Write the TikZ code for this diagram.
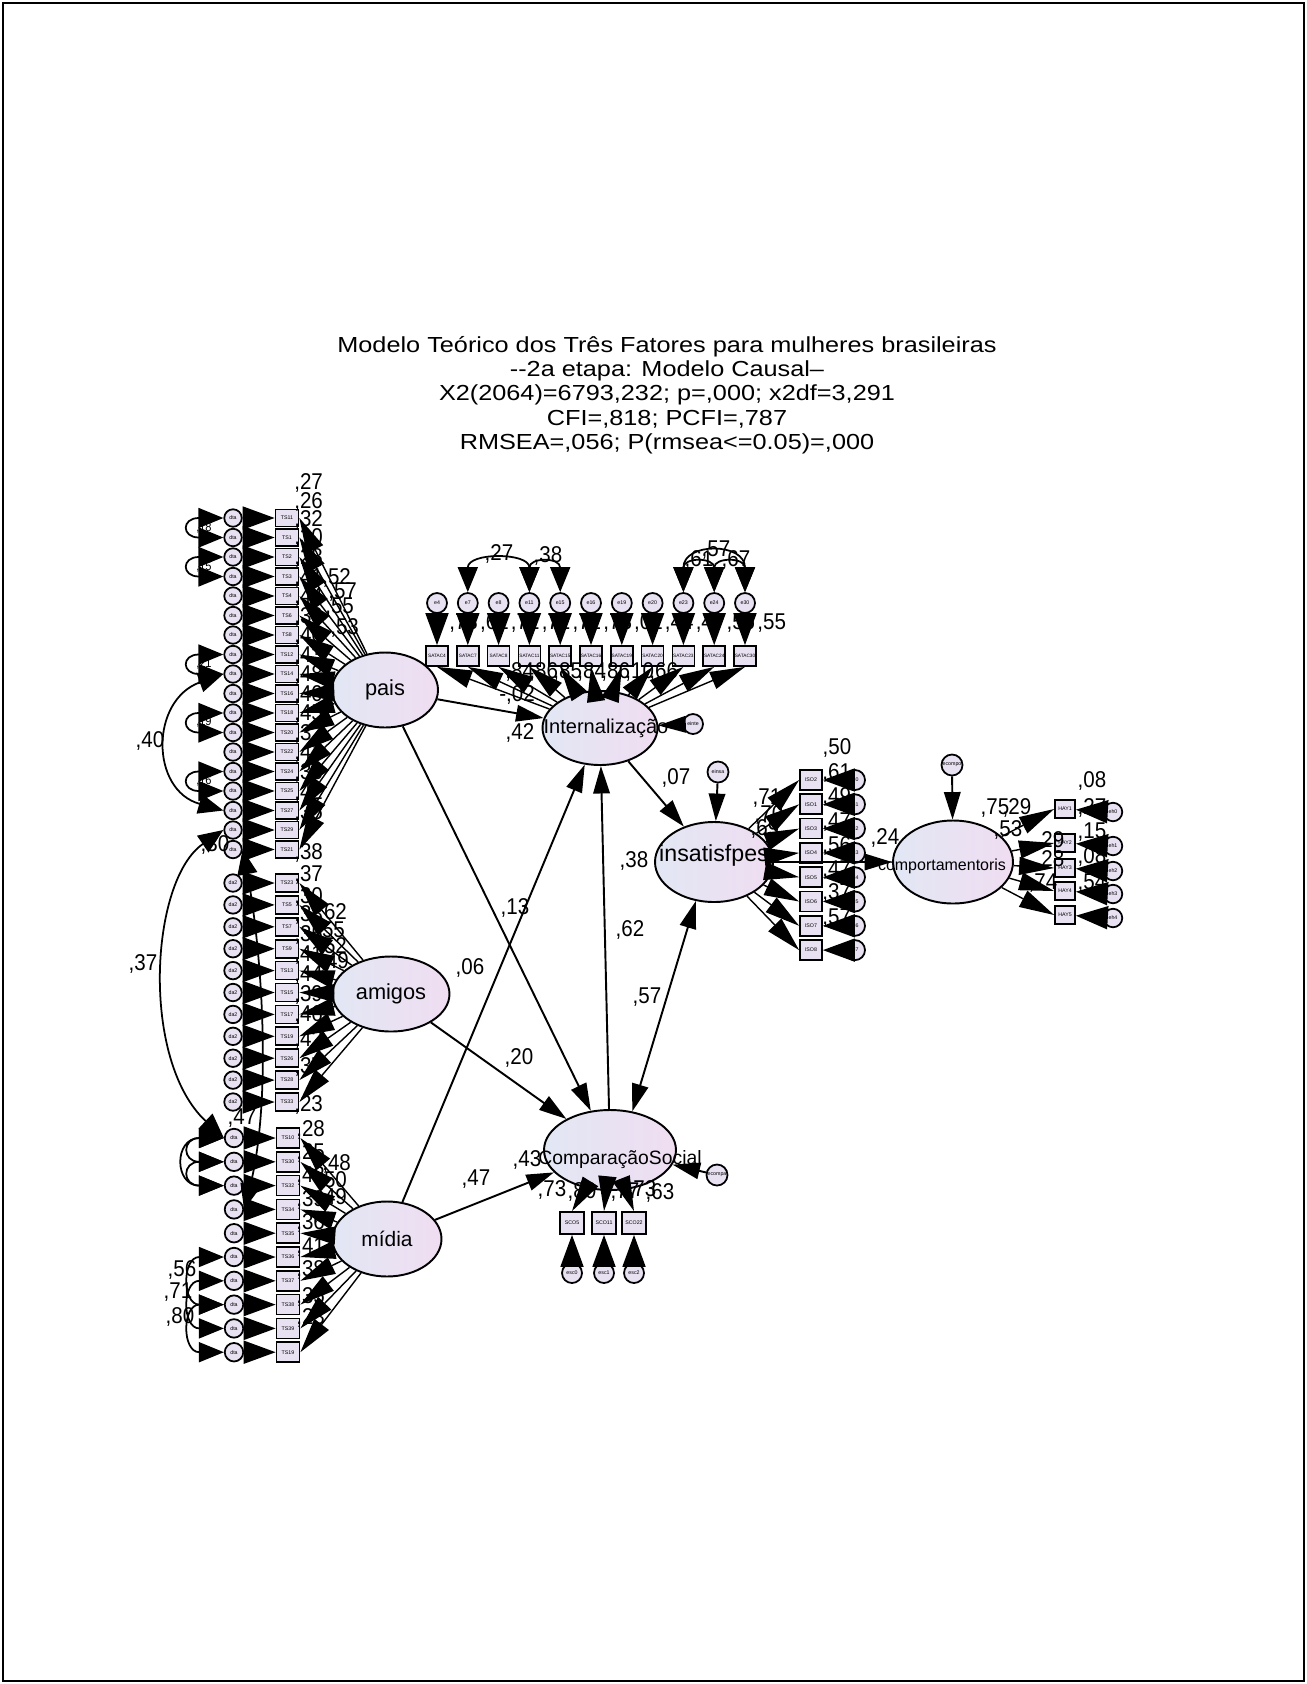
\documentclass[tikz,border=0pt]{standalone}
\usepackage{fontspec}
\setmainfont{Liberation Sans}
\newfontfamily\titlefont{Liberation Sans}[FakeStretch=1.16]
\newfontfamily\labfont{Liberation Sans}[FakeStretch=0.9]
\usetikzlibrary{arrows.meta, shapes.geometric}
\definecolor{amosfill}{RGB}{232,225,242}
\definecolor{amosleft}{RGB}{226,231,244}
\definecolor{amosright}{RGB}{240,221,242}
\tikzset{
  latent/.style={ellipse, draw, line width=1.1pt, left color=amosleft, right color=amosright, inner sep=0pt},
  latlab/.style={inner sep=0pt},
  obsbox/.style={rectangle, draw, line width=1pt, fill=amosfill, inner sep=0pt, minimum width=0.46cm, minimum height=0.34cm, font=\fontsize{3}{3}\selectfont},
  errcirc/.style={circle, draw, line width=1pt, fill=amosfill, inner sep=0pt, minimum size=0.35cm, font=\fontsize{3}{3}\selectfont},
  tinylab/.style={inner sep=0pt, font=\fontsize{3}{3}\selectfont},
  coef/.style={inner sep=0pt, font=\labfont\fontsize{13}{14}\selectfont},
  smallcoef/.style={inner sep=0pt, font=\labfont\fontsize{7}{8}\selectfont},
  titletext/.style={align=center, inner sep=0pt, font=\titlefont\fontsize{12.4}{13.8}\selectfont},
  errarrow/.style={line width=1pt, -{Triangle[length=0.64cm,width=0.46cm]}},
  loadarrow/.style={line width=0.8pt, -{Triangle[length=0.7cm,width=0.36cm]}},
  patharrow/.style={line width=1.1pt, -{Triangle[length=0.55cm,width=0.33cm]}},
  twoway/.style={line width=1.1pt, {Triangle[length=0.55cm,width=0.33cm]}-{Triangle[length=0.55cm,width=0.33cm]}},
  covarrow/.style={line width=1pt, {Triangle[length=0.5cm,width=0.4cm]}-{Triangle[length=0.5cm,width=0.4cm]}},
}
\begin{document}
\begin{tikzpicture}[x=0.02cm, y=-0.02cm]
\useasboundingbox (0,0) rectangle (1307,1684);
\draw[line width=1.1pt] (3,3) rectangle (1304,1681);

% title
\node[titletext] (title) at (667,395) {Modelo Teórico dos Três Fatores para mulheres brasileiras\\-{}-2a etapa: Modelo Causal–\\X2(2064)=6793,232; p=,000; x2df=3,291\\CFI=,818; PCFI=,787\\RMSEA=,056; P(rmsea<=0.05)=,000};

% latent variables
\node[latent, minimum width=2.12cm, minimum height=1.5cm, label={[latlab, font=\fontsize{12.4}{14}\selectfont]center:pais}] (pais) at (385,690) {};
\node[latent, minimum width=2.34cm, minimum height=1.5cm, label={[latlab, font=\fontsize{12.4}{14}\selectfont]center:amigos}] (amigos) at (391,994) {};
\node[latent, minimum width=2.18cm, minimum height=1.5cm, label={[latlab, font=\fontsize{11.9}{14}\selectfont]center:mídia}] (midia) at (387,1239) {};
\node[latent, minimum width=2.3cm, minimum height=1.48cm, label={[latlab, xshift=0.12cm, font=\fontsize{11.4}{14}\selectfont]center:Internalização}] (intern) at (600,728) {};
\node[latent, minimum width=2.36cm, minimum height=1.6cm, label={[latlab, yshift=0.14cm, font=\fontsize{13.2}{15}\selectfont]center:insatisfpes}] (insat) at (714,862) {};
\node[latent, minimum width=2.4cm, minimum height=1.66cm, label={[latlab, xshift=-0.22cm, yshift=-0.08cm, font=\fontsize{9.1}{11}\selectfont]center:comportamentoris}] (comp) at (953,862) {};
\node[latent, minimum width=2.64cm, minimum height=1.6cm, label={[latlab, xshift=0.2cm, yshift=-0.2cm, font=\fontsize{11}{13}\selectfont]center:ComparaçãoSocial}] (soc) at (610,1150) {};

% residuals of the latent variables
\node[errcirc, minimum size=0.4cm, label={[tinylab]center:einte}] (eint) at (693,724) {};
\node[errcirc, minimum size=0.42cm, label={[tinylab]center:einsa}] (einsat) at (718,772) {};
\node[errcirc, minimum size=0.42cm, label={[tinylab]center:ecompo}] (ecomp) at (952,765) {};
\node[errcirc, minimum size=0.42cm, label={[tinylab]center:ecompa}] (esoc) at (717,1175) {};

% left indicators
\foreach \nm [count=\i from 0] in {TS11,TS1,TS2,TS3,TS4,TS6,TS8,TS12,TS14,TS16,TS18,TS20,TS22,TS24,TS25,TS27,TS29,TS21} {
  \node[obsbox] (p\i) at (287,518+19.5*\i) {\nm};
  \node[errcirc] (dp\i) at (233,518+19.5*\i) {dta};
}
\foreach \nm [count=\i from 0] in {TS23,TS5,TS7,TS9,TS13,TS15,TS17,TS19,TS26,TS28,TS33} {
  \node[obsbox, minimum height=0.36cm] (a\i) at (287,883+21.9*\i) {\nm};
  \node[errcirc] (da\i) at (233,883+21.9*\i) {da2};
}
\foreach \nm [count=\i from 0] in {TS10,TS30,TS32,TS34,TS35,TS36,TS37,TS38,TS39,TS19} {
  \node[obsbox, minimum height=0.4cm] (m\i) at (288,1138+23.8*\i) {\nm};
  \node[errcirc, minimum size=0.37cm] (dm\i) at (234,1138+23.8*\i) {dta};
}

% internalizacao indicators
\foreach \e [count=\i from 0] in {4,7,8,11,15,16,19,20,23,24,30} {
  \node[obsbox, minimum width=0.44cm, minimum height=0.4cm, font=\fontsize{2.7}{3}\selectfont] (s\i) at (437+30.8*\i,656) {SATAC\e};
  \node[errcirc, minimum size=0.4cm] (es\i) at (437+30.8*\i,603) {e\e};
}
% insatisfpes indicators
\foreach \nm [count=\i from 0] in {ISO2,ISO1,ISO3,ISO4,ISO5,ISO6,ISO7,ISO8} {
  \node[obsbox, minimum width=0.44cm, minimum height=0.4cm] (q\i) at (811,780+24.3*\i) {\nm};
  \node[errcirc, minimum size=0.4cm] (eq\i) at (855,780+24.3*\i) {ei\i};
}
% comportamentoris indicators
\foreach \yy/\nm [count=\i from 0] in {809/HAY1,843/HAY2,868/HAY3,891/HAY4,915/HAY5} {
  \node[obsbox, minimum width=0.4cm, minimum height=0.36cm] (c\i) at (1065,\yy) {\nm};
  \node[errcirc, minimum size=0.37cm] (ec\i) at (1113,\yy+3) {eh\i};
}
% comparacao social indicators
\foreach \xx/\nm [count=\i from 0] in {572/SCO5,604/SCO11,634/SCO22} {
  \node[obsbox, minimum width=0.48cm, minimum height=0.44cm] (k\i) at (\xx,1223) {\nm};
  \node[errcirc, minimum size=0.4cm] (ek\i) at (\xx,1273) {esc\i};
}

% squared multiple correlations and weights
\foreach \yy/\txt [count=\k] in {483/{,27},502/{,26},520/{,32},538/{,30},558/{,28},578/{,41},597/{,44},617/{,39},636/{,46},656/{,43},675/{,48},695/{,40},714/{,45},734/{,37},753/{,41},773/{,36},793/{,42},813/{,35},853/{,38}}
  \node[coef, anchor=west] (rp\k) at (294,\yy) {\txt};
\foreach \xx/\yy/\txt [count=\k] in {322/578/{,52},328/592/{,57},325/607/{,55},330/628/{,53}}
  \node[coef, anchor=west] (xp\k) at (\xx,\yy) {\txt};
\foreach \yy/\txt [count=\k] in {875/{,37},897/{,30},915/{,38},935/{,35},955/{,41},975/{,44},995/{,39},1015/{,46},1040/{,42},1067/{,37},1105/{,23}}
  \node[coef, anchor=west] (ra\k) at (294,\yy) {\txt};
\foreach \xx/\yy/\txt [count=\k] in {318/913/{,62},316/931/{,55},318/947/{,52},320/962/{,49}}
  \node[coef, anchor=west] (xa\k) at (\xx,\yy) {\txt};
\foreach \yy/\txt [count=\k] in {1130/{,28},1153/{,25},1176/{,42},1200/{,39},1223/{,36},1247/{,41},1270/{,38},1297/{,35},1318/{,23}}
  \node[coef, anchor=west] (rm\k) at (296,\yy) {\txt};
\foreach \xx/\yy/\txt [count=\k] in {322/1164/{,48},318/1181/{,50},318/1198/{,49}}
  \node[coef, anchor=west] (xm\k) at (\xx,\yy) {\txt};
\foreach \txt [count=\k from 0] in {{,73},{,62},{,71},{,72},{,71},{,73},{,01},{,44},{,47},{,56},{,55}}
  \node[coef, anchor=west] (rs\k) at (449+30.8*\k,623) {\txt};
\foreach \txt [count=\k from 0] in {{,84},{,86},{,85},{,84},{,86},{,10},{,66}}
  \node[coef, anchor=west] (ws\k) at (505+24*\k,672) {\txt};
\foreach \yy/\txt [count=\k] in {773/{,61},797/{,49},822/{,47},846/{,56},870/{,47},893/{,37},918/{,57}}
  \node[coef, anchor=west] (rq\k) at (822,\yy) {\txt};
\node[coef] (rq0) at (837,748) {,50};
\node[coef] (wq1) at (767,798) {,71};
\node[coef] (wq2) at (769,815) {,70};
\node[coef] (wq3) at (765,829) {,69};
\foreach \yy/\txt [count=\k] in {781/{,08},808/{,27},832/{,15},857/{,08},883/{,54}}
  \node[coef] (rc\k) at (1092,\yy) {\txt};
\node[coef] (rc0) at (995,808) {,75};
\node[coef] (wc1) at (1017,808) {,29};
\node[coef] (wc2) at (1008,830) {,53};
\node[coef] (wc3) at (1050,841) {,29};
\node[coef] (wc4) at (1050,860) {,28};
\node[coef] (wc5) at (1043,883) {,74};
\foreach \xx/\yy/\txt [count=\k] in {552/1190/{,73},582/1192/{,80},625/1192/{,77},642/1190/{,73},660/1193/{,63}}
  \node[coef] (rk\k) at (\xx,\yy) {\txt};

% structural weights and covariances
\node[coef] (w1) at (517,695) {-,02};
\node[coef] (w2) at (520,733) {,42};
\node[coef] (w3) at (470,968) {,06};
\node[coef] (w4) at (515,908) {,13};
\node[coef] (w5) at (519,1058) {,20};
\node[coef] (w6) at (476,1179) {,47};
\node[coef] (w7) at (527,1160) {,43};
\node[coef] (w8) at (630,930) {,62};
\node[coef] (w9) at (647,997) {,57};
\node[coef] (w10) at (676,778) {,07};
\node[coef] (w11) at (634,861) {,38};
\node[coef] (w12) at (885,838) {,24};
\node[coef] (v1) at (150,741) {,40};
\node[coef] (v2) at (143,964) {,37};
\node[coef] (v3) at (215,845) {,30};
\node[coef] (v4) at (242,1118) {,47};
\node[coef] (v5) at (182,1270) {,56};
\node[coef] (v6) at (178,1292) {,71};
\node[coef] (v7) at (180,1317) {,80};
\node[coef] (v8) at (499,554) {,27};
\node[coef] (v9) at (548,556) {,38};
\node[coef] (v10) at (716,550) {,57};
\node[coef] (v11) at (699,560) {,61};
\node[coef] (v12) at (736,560) {,67};
\foreach \yy/\txt [count=\k] in {528/{,18},567/{,15},664/{,21},722/{,19},781/{,16}}
  \node[smallcoef, anchor=east] (vs\k) at (212,\yy) {\txt};

% measurement arrows
\foreach \i in {0,...,17} {\draw[errarrow] (dp\i) -- (p\i); \draw[loadarrow] (pais) -- (p\i.east);}
\foreach \i in {0,...,10} {\draw[errarrow] (da\i) -- (a\i); \draw[loadarrow] (amigos) -- (a\i.east);}
\foreach \i in {0,...,9} {\draw[errarrow] (dm\i) -- (m\i); \draw[loadarrow] (midia) -- (m\i.east);}
\foreach \i in {0,...,10} {\draw[errarrow] (es\i) -- (s\i); \draw[loadarrow] (intern) -- (s\i.south);}
\foreach \i in {0,...,7} {\draw[errarrow] (eq\i) -- (q\i); \draw[loadarrow] (insat) -- (q\i.west);}
\foreach \i in {0,...,4} {\draw[errarrow] (ec\i) -- (c\i); \draw[loadarrow] (comp) -- (c\i.west);}
\foreach \i in {0,1,2} {\draw[errarrow] (ek\i) -- (k\i); \draw[loadarrow] (soc) -- (k\i.north);}

% structural arrows
\draw[patharrow] (pais) -- (intern);
\draw[patharrow] (pais) -- (soc);
\draw[patharrow] (amigos) -- (soc);
\draw[patharrow] (midia) -- (intern);
\draw[patharrow] (midia) -- (soc);
\draw[patharrow] (soc) -- (intern);
\draw[patharrow] (intern) -- (insat);
\draw[twoway] (soc.60) -- (insat.245);
\draw[patharrow] (insat) -- (comp);
\draw[patharrow] (eint) -- (intern);
\draw[patharrow] (einsat) -- (insat);
\draw[patharrow] (ecomp) -- (comp);
\draw[patharrow] (esoc) -- (soc);

% error covariances
\foreach \a/\b in {0/1,2/3,7/8,10/11,13/14}
  \draw[covarrow] (dp\a.west) .. controls +(-42,0) and +(-42,0) .. (dp\b.west);
\foreach \a/\b in {0/1,1/2,5/7,6/8,7/9}
  \draw[covarrow] (dm\a.west) .. controls +(-42,0) and +(-42,0) .. (dm\b.west);
\draw[covarrow] (dm0.west) .. controls +(-50,0) and +(-50,0) .. (dm2.west);
\draw[covarrow] (dp8.west) .. controls (150,700) and (150,790) .. (dp15.west);
\draw[covarrow] (dp16.west) .. controls (150,880) and (140,1060) .. (dm0.west);
\draw[covarrow] (dp17.east) .. controls (262,950) and (272,1100) .. (dm3.east);
\draw[covarrow] (es1.north) .. controls +(0,-40) and +(0,-40) .. (es3.north);
\draw[covarrow] (es3.north) .. controls +(0,-35) and +(0,-35) .. (es4.north);
\draw[covarrow] (es8.north) .. controls +(0,-35) and +(0,-35) .. (es9.north);
\draw[covarrow] (es9.north) .. controls +(0,-35) and +(0,-35) .. (es10.north);
\draw[covarrow] (es8.north) .. controls +(0,-50) and +(0,-50) .. (es10.north);
\end{tikzpicture}
\end{document}
